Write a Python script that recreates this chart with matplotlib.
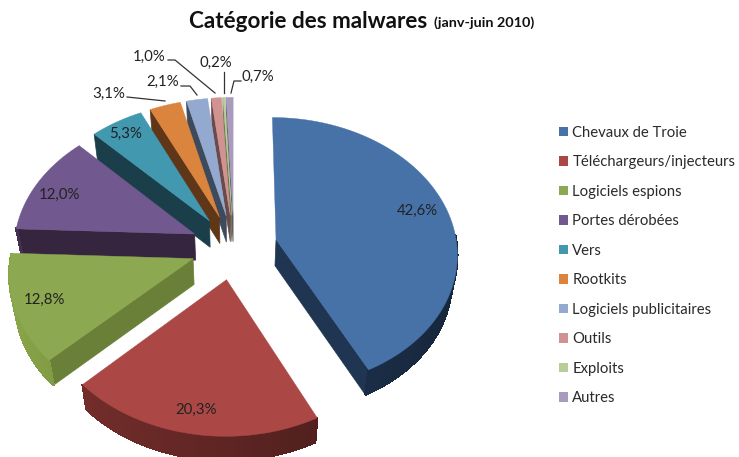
import numpy as np
import matplotlib
matplotlib.use("Agg")
import matplotlib.pyplot as plt
from matplotlib.patches import Patch

categories = ["Chevaux de Troie", "Téléchargeurs/injecteurs", "Logiciels espions",
              "Portes dérobées", "Vers", "Rootkits", "Logiciels publicitaires",
              "Outils", "Exploits", "Autres"]
values = [42.6, 20.3, 12.8, 12.0, 5.3, 3.1, 2.1, 1.0, 0.2, 0.7]
top_colors = ["#4672A8", "#AB4845", "#8CA850", "#71588F", "#4198AF",
              "#DB843D", "#93A9CF", "#D19392", "#B9CD96", "#A99BBD"]
side_colors = ["#1F3552", "#5E2523", "#6A8038", "#35253F", "#1B3F4A",
               "#5F3718", "#3D4A5C", "#6B4A4A", "#6A7A50", "#5A5068"]

# label anchor positions, leader paths (style only)
label_pos = [(417, 211), (196, 410), (44, 300), (59, 195), (126, 134),
             (109, 94), (163, 82), (149, 57), (216, 63), (258, 77)]
leaders = {5: [(127, 97), (165, 101)],
           6: [(181, 86), (190, 86), (197, 95)],
           7: [(168, 60), (175, 60), (215, 93)],
           8: [(224, 72), (224, 93)],
           9: [(241, 81), (234, 81), (231, 93)]}

# projection of the tilted, exploded pie
CX, CY, RX, RY, K, EXPLODE, DEPTH = 234, 247, 181, 135, 0.0956, 0.24, 26


def project(u, v):
    w = 1 + K * v
    return CX + RX * u / w, CY - RY * v / w


def to_bottom(x, y):
    return CX + (x - CX) * 0.975, CY + (y - CY) * 0.99 + DEPTH


def shade(color, f):
    rgb = np.array(matplotlib.colors.to_rgb(color)) * f
    return tuple(np.clip(rgb, 0, 1))


fig = plt.figure(figsize=(7.39, 4.57), dpi=100)
ax = fig.add_axes([0, 0, 1, 1])
ax.set_xlim(0, 739)
ax.set_ylim(457, 0)
ax.axis("off")

frac = np.array(values) / sum(values)
ends = 90 - 360 * np.cumsum(frac)
starts = np.r_[90, ends[:-1]]

for i in range(len(values) - 1, -1, -1):
    a0, a1 = np.radians(starts[i]), np.radians(ends[i])
    mid = (a0 + a1) / 2
    ox, oy = EXPLODE * np.cos(mid), EXPLODE * np.sin(mid)
    th = np.linspace(a0, a1, 90)
    ax_x, ax_y = project(ox, oy)
    ax_bx, ax_by = to_bottom(ax_x, ax_y)
    ox_arc, oy_arc = project(np.cos(th) + ox, np.sin(th) + oy)
    bx_arc, by_arc = to_bottom(ox_arc, oy_arc)
    z = 1 + 0.1 * (len(values) - i)
    # radial side faces, only those turned towards the viewer
    if np.cos(a0) < -1e-6:
        ax.fill([ax_x, ox_arc[0], bx_arc[0], ax_bx], [ax_y, oy_arc[0], by_arc[0], ax_by],
                color=side_colors[i], lw=0.5, zorder=z)
    if np.cos(a1) > 1e-6:
        ax.fill([ax_x, ox_arc[-1], bx_arc[-1], ax_bx], [ax_y, oy_arc[-1], by_arc[-1], ax_by],
                color=side_colors[i], lw=0.5, zorder=z)
    # outer rim, shaded by the direction it faces
    for j in range(len(th) - 1):
        if np.sin(th[j]) > 0.04:
            continue
        f = 1 - 0.3 * np.cos(th[j])
        c = shade(side_colors[i], f)
        ax.fill([ox_arc[j], ox_arc[j + 1], bx_arc[j + 1], bx_arc[j]],
                [oy_arc[j], oy_arc[j + 1], by_arc[j + 1], by_arc[j]],
                facecolor=c, edgecolor=c, lw=1.0, antialiased=False, zorder=z)
    ax.fill(np.r_[ax_x, ox_arc], np.r_[ax_y, oy_arc], color=top_colors[i], lw=0.3,
            zorder=z + 0.05)

text_font = ["Lato", "DejaVu Sans"]
for i, (x, y) in enumerate(label_pos):
    ax.text(x, y, f"{values[i]:.1f}%".replace(".", ","), ha="center", va="center",
            fontsize=10.8, color="#222222", family=text_font, zorder=5)
for path in leaders.values():
    xs, ys = zip(*path)
    ax.plot(xs, ys, color="#333333", lw=0.9, zorder=4)

ax.text(189, 21, "Catégorie des malwares", fontsize=16.2, fontweight="bold",
        color="#111111", family=text_font, ha="left", va="center")
ax.text(434, 23, "(janv-juin 2010)", fontsize=10.4, fontweight="bold",
        color="#111111", family=text_font, ha="left", va="center")

handles = [Patch(facecolor=c, edgecolor="none") for c in top_colors]
ax.legend(handles, categories, loc="upper left", bbox_to_anchor=(559, 126),
          bbox_transform=ax.transData, frameon=False,
          labelspacing=1.04, handlelength=0.58, handleheight=0.6,
          handletextpad=0.32, borderpad=0, borderaxespad=0, labelcolor="#2A2A2A",
          prop={"family": "Lato", "size": 10.7})

fig.savefig("out.png", dpi=100)
